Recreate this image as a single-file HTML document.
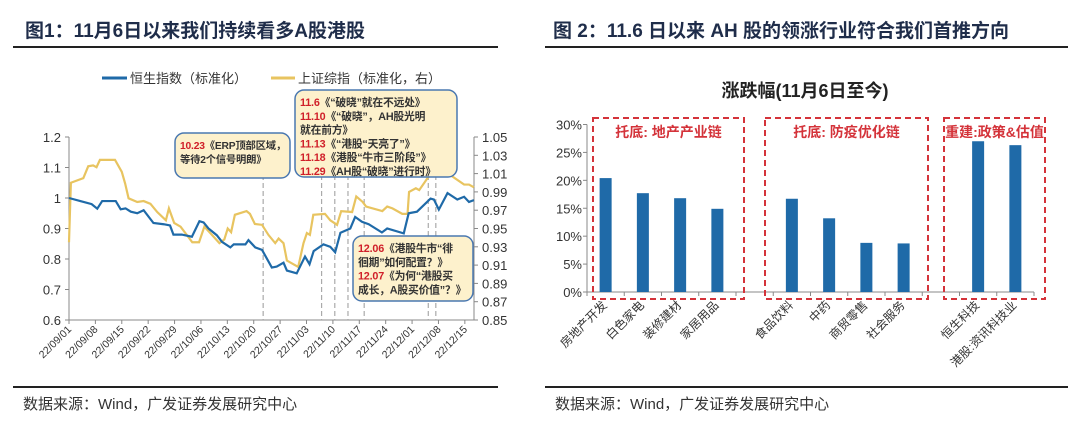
<!DOCTYPE html>
<html><head><meta charset="utf-8">
<style>
body{margin:0;width:1080px;height:426px;background:#fff;overflow:hidden;font-family:"Liberation Sans","Noto Sans CJK SC",sans-serif;}
svg{position:absolute;left:0;top:0}
</style></head>
<body>
<svg width="1080" height="426" xmlns="http://www.w3.org/2000/svg">
<g id="L"></g>
<g id="R"></g>
</svg>
<script>
// ---- Left chart data (x = calendar days since 22/09/01) ----
const hsDays=[0,3,6,7.5,8.8,12.4,13.7,15,16.4,18.1,19.8,22.4,25.1,26.8,27.7,29.9,32.6,34.6,35.7,37,39.2,40.6,42.8,43.7,46.8,47.6,49.4,51.2,53.8,55.1,56.9,57.8,60.4,62.6,63.8,64.9,67.5,69.3,70.6,72,74.6,75.9,77.7,79.5,83,84.4,88.8,90.1,92.3,95.9,96.8,98.1,100.4,103,104.8,106.1,107.4];
const hsVals=[1.0,0.99,0.98,0.965,0.99,0.99,0.963,0.966,0.955,0.95,0.96,0.918,0.914,0.91,0.88,0.88,0.873,0.924,0.92,0.90,0.878,0.856,0.838,0.848,0.848,0.862,0.838,0.83,0.772,0.775,0.788,0.762,0.753,0.808,0.783,0.826,0.848,0.84,0.822,0.886,0.90,0.938,0.922,0.914,0.887,0.90,0.884,0.95,0.955,0.998,0.995,0.962,1.016,0.995,1.004,0.987,0.993];
const shDays=[0,0.5,3.8,5.1,6.4,7.3,8.2,12.2,14,14.9,15.8,18.1,19.8,21.6,23.4,25.7,26.5,27.9,29.6,32.7,34.5,35.9,37.7,39.9,41.2,42.1,43,44,47.1,48,49.3,51.2,52.9,54.7,55.6,56.9,57.8,60.8,62.2,63.1,63.9,64.8,67.9,69.3,71.1,72.2,75.1,76.2,77.9,78.8,83.1,84.4,85.8,88.4,89.8,90.2,92,92.9,95.6,98.6,101.3,104.8,106.1,107.4];
const shVals=[0.935,1.0,1.005,1.018,1.019,1.017,1.025,1.025,1.012,0.999,0.983,0.979,0.98,0.977,0.968,0.959,0.972,0.956,0.952,0.935,0.935,0.952,0.944,0.934,0.938,0.95,0.946,0.965,0.969,0.966,0.955,0.954,0.943,0.934,0.939,0.934,0.915,0.908,0.934,0.945,0.943,0.965,0.966,0.959,0.954,0.969,0.968,0.985,0.979,0.974,0.969,0.974,0.972,0.966,0.966,0.99,0.994,0.992,1.008,1.012,1.008,0.998,0.998,0.995];
const leftTicks=[0.6,0.7,0.8,0.9,1.0,1.1,1.2];
const leftTickLabels=["0.6","0.7","0.8","0.9","1","1.1","1.2"];
const rightTicks=[0.85,0.87,0.89,0.91,0.93,0.95,0.97,0.99,1.01,1.03,1.05];
const dateLabels=["22/09/01","22/09/08","22/09/15","22/09/22","22/09/29","22/10/06","22/10/13","22/10/20","22/10/27","22/11/03","22/11/10","22/11/17","22/11/24","22/12/01","22/12/08","22/12/15"];
const eventDays=[51.5,67,70.5,74,78.3,95.3,97.3];

// ---- Right chart data ----
const sectors=["房地产开发","白色家电","装修建材","家居用品","","食品饮料","中药","商贸零售","社会服务","","恒生科技","港股:资讯科技业"];
const returns=[20.4,17.7,16.8,14.9,null,16.7,13.2,8.8,8.7,null,27.0,26.3];
const pctTicks=[0,5,10,15,20,25,30];

const NS="http://www.w3.org/2000/svg";
function mk(parent,tag,attrs,text){const e=document.createElementNS(NS,tag);for(const k in attrs)e.setAttribute(k,attrs[k]);if(text!==undefined)e.textContent=text;parent.appendChild(e);return e;}
const L=document.getElementById('L'), R=document.getElementById('R');
const root=document.querySelector('svg');

// Titles, rules, footers
let t;
t=mk(root,'text',{x:25,y:37,'font-size':19,'font-weight':'bold',fill:'#1f2d4a'},'图1：11月6日以来我们持续看多A股港股');

t=mk(root,'text',{x:553,y:37,'font-size':19,'font-weight':'bold',fill:'#1f2d4a'},'图 2：11.6 日以来 AH 股的领涨行业符合我们首推方向');

[[13,498],[545,1068]].forEach(([a,b])=>{mk(root,'line',{x1:a,x2:b,y1:47,y2:47,stroke:'#222','stroke-width':2});mk(root,'line',{x1:a,x2:b,y1:387,y2:387,stroke:'#222','stroke-width':2});});
t=mk(root,'text',{x:23,y:409,'font-size':15,fill:'#333'},'数据来源：Wind，广发证券发展研究中心');

t=mk(root,'text',{x:555,y:409,'font-size':15,fill:'#333'},'数据来源：Wind，广发证券发展研究中心');


// Left chart axes
const X0=69,X1=474,Y0=320,Y1=137;
const xs=d=>X0+d*3.77;
const yl=v=>Y0-(v-0.6)/0.6*(Y0-Y1);
const yr=v=>Y0-(v-0.85)/0.2*(Y0-Y1);
mk(L,'line',{x1:X0,x2:X0,y1:Y1,y2:Y0,stroke:'#888'});
mk(L,'line',{x1:X1,x2:X1,y1:Y1,y2:Y0,stroke:'#888'});
mk(L,'line',{x1:X0,x2:X1,y1:Y0,y2:Y0,stroke:'#888'});
leftTicks.forEach((v,i)=>{mk(L,'line',{x1:X0-4,x2:X0,y1:yl(v),y2:yl(v),stroke:'#888'});
 const e=mk(L,'text',{x:X0-8,y:yl(v)+5,'font-size':13,'text-anchor':'end',fill:'#333'},leftTickLabels[i]);
 });
rightTicks.forEach(v=>{mk(L,'line',{x1:X1,x2:X1+4,y1:yr(v),y2:yr(v),stroke:'#888'});
 const e=mk(L,'text',{x:X1+8,y:yr(v)+5,'font-size':13,fill:'#333'},v.toFixed(2));
 });
dateLabels.forEach((s,i)=>{const x=xs(i*7);mk(L,'line',{x1:x,x2:x,y1:Y0,y2:Y0+4,stroke:'#888'});
 const e=mk(L,'text',{x:x+3,y:Y0+10,'font-size':10.5,'text-anchor':'end',fill:'#333',transform:`rotate(-45 ${x+3} ${Y0+10})`},s);
 });
eventDays.forEach(d=>{const e=mk(L,'line',{x1:xs(d),x2:xs(d),y1:175,y2:Y0,stroke:'#aaa','stroke-dasharray':'5,3','stroke-width':1.2});
 });
let p=mk(L,'polyline',{points:shDays.map((d,i)=>xs(d)+','+yr(shVals[i])).join(' '),fill:'none',stroke:'#e8c460','stroke-width':2.2});

p=mk(L,'polyline',{points:hsDays.map((d,i)=>xs(d)+','+yl(hsVals[i])).join(' '),fill:'none',stroke:'#1f6aa8','stroke-width':2.2});

// legend
mk(L,'line',{x1:102,x2:127,y1:78,y2:78,stroke:'#1f6aa8','stroke-width':3});
t=mk(L,'text',{x:130,y:83,'font-size':13,fill:'#333'},'恒生指数（标准化）');
mk(L,'line',{x1:271,x2:295,y1:78,y2:78,stroke:'#e8c460','stroke-width':3});
t=mk(L,'text',{x:298,y:83,'font-size':13,fill:'#333'},'上证综指（标准化，右）');
// annotation boxes
function box(x,y,w,h,lines,name,fs){const g=mk(L,'g',{});
 mk(g,'rect',{x,y,width:w,height:h,rx:9,fill:'#fdf1cc',stroke:'#4a78b0','stroke-width':1.5});
 lines.forEach((ln,i)=>{const tx=mk(g,'text',{x:x+5,y:y+16+i*13.8,'font-size':fs,'font-weight':'bold',fill:'#333','letter-spacing':-0.2});
  mk(tx,'tspan',{fill:'#d0202a'},ln[0]);mk(tx,'tspan',{},ln[1]);});}
box(175,133,115,45,[['10.23','《ERP顶部区域，'],['','等待2个信号明朗》']],'annotation-1023',10.3);
box(295,90,162,87,[['11.6','《“破晓”就在不远处》'],['11.10','《“破晓”，AH股光明'],['','就在前方》'],['11.13','《“港股“天亮了”》'],['11.18','《港股“牛市三阶段”》'],['11.29','《AH股“破晓”进行时》']],'annotation-november',10.8);
box(353,236,120,65,[['12.06','《港股牛市“徘'],['','徊期”如何配置？》'],['12.07','《为何“港股买'],['','成长，A股买价值”？》']],'annotation-december',10.8);

// Right chart
const RX0=587,RX1=1034,RY0=292,RY1=124.5;
const yp=v=>RY0-v/30*(RY0-RY1);
const slot=(RX1-RX0)/sectors.length;
const xc=i=>RX0+slot*(i+0.5);
t=mk(R,'text',{x:805,y:97,'font-size':18,'font-weight':'bold','text-anchor':'middle',fill:'#222'},'涨跌幅(11月6日至今)');

mk(R,'line',{x1:RX0,x2:RX0,y1:RY1,y2:RY0,stroke:'#888'});
mk(R,'line',{x1:RX0,x2:RX1,y1:RY0,y2:RY0,stroke:'#888'});
pctTicks.forEach(v=>{mk(R,'line',{x1:RX0-4,x2:RX0,y1:yp(v),y2:yp(v),stroke:'#888'});
 const e=mk(R,'text',{x:RX0-5,y:yp(v)+5,'font-size':13,'text-anchor':'end',fill:'#333'},v+'%');
 });
for(let i=0;i<=sectors.length;i++){const x=RX0+slot*i;mk(R,'line',{x1:x,x2:x,y1:RY0,y2:RY0+4,stroke:'#888'});}
returns.forEach((v,i)=>{if(v===null)return;
 const b=mk(R,'rect',{x:xc(i)-6,y:yp(v),width:12,height:RY0-yp(v),fill:'#1f6aa8'});
 });
sectors.forEach((s,i)=>{if(!s)return;const x=xc(i)+2,y=RY0+14;
 const e=mk(R,'text',{x,y,'font-size':12,'text-anchor':'end',fill:'#333',transform:`rotate(-45 ${x} ${y})`},s);
 });
[[593,744,'托底: 地产产业链'],[765,928,'托底: 防疫优化链'],[944,1045,'重建:政策&估值']].forEach(([a,b,lab])=>{
 const r=mk(R,'rect',{x:a,y:118,width:b-a,height:181,fill:'none',stroke:'#d4333a','stroke-width':2,'stroke-dasharray':'6,4'});
 
 const e=mk(R,'text',{x:(a+b)/2,y:137,'font-size':14,'font-weight':'bold','text-anchor':'middle',fill:'#d4333a'},lab);
 });
</script>
</body></html>
